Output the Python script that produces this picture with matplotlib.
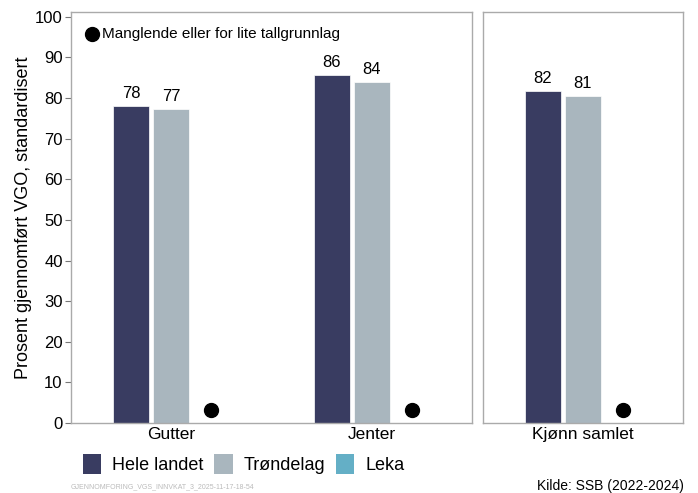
import matplotlib
matplotlib.use("Agg")
import matplotlib.pyplot as plt
from matplotlib.patches import Patch

plt.rcParams['font.family'] = ['Liberation Sans', 'DejaVu Sans']

categories_left = ["Gutter", "Jenter"]
categories_right = ["Kjønn samlet"]
series = ["Hele landet", "Trøndelag", "Leka"]
hele_left = [78.0, 85.8]
tron_left = [77.4, 84.0]
hele_right = [81.7]
tron_right = [80.6]
missing_y = 3.2
colors = {"Hele landet": "#393C61", "Trøndelag": "#A9B6BE", "Leka": "#64AFC6"}
yticks = [0, 10, 20, 30, 40, 50, 60, 70, 80, 90, 100]

W, H = 698, 493
fig = plt.figure(figsize=(W/100, H/100), dpi=100)
axL = fig.add_axes([71/W, 1-423/H, 401/W, 411/H])
axR = fig.add_axes([483/W, 1-423/H, 200/W, 411/H])

bw = 0.18
off = 0.2

def draw(ax, cats, hele, tron):
    xs = list(range(len(cats)))
    b1 = ax.bar([x - off for x in xs], hele, width=bw, color=colors["Hele landet"],
                edgecolor="white", linewidth=0.5)
    b2 = ax.bar(xs, tron, width=bw, color=colors["Trøndelag"],
                edgecolor="white", linewidth=0.5)
    for rects, vals in ((b1, hele), (b2, tron)):
        for r, v in zip(rects, vals):
            ax.text(r.get_x() + r.get_width()/2, v + 1.2, f"{round(v)}",
                    ha="center", va="bottom", fontsize=12)
    ax.plot([x + off for x in xs], [missing_y]*len(xs), 'o', color="black",
            markersize=10)
    ax.set_xticks(xs)
    ax.set_xticklabels(cats, fontsize=12.5)
    ax.set_xlim(-0.5, len(cats) - 0.5)
    ax.set_ylim(0, 101.2)
    for s in ax.spines.values():
        s.set_color("#AAAAAA")
        s.set_linewidth(1)
    ax.tick_params(axis='x', length=0, pad=3)

draw(axL, categories_left, hele_left, tron_left)
draw(axR, categories_right, hele_right, tron_right)

axL.set_yticks(yticks)
axL.set_yticklabels([str(t) for t in yticks], fontsize=12)
axL.tick_params(axis='y', length=4, color="#777777", pad=2)
axL.set_ylabel("Prosent gjennomført VGO, standardisert", fontsize=13, labelpad=2)
axR.set_yticks([])

axL.plot([0.052], [0.947], 'o', color="black", markersize=10, transform=axL.transAxes,
         clip_on=False)
axL.text(0.078, 0.947, "Manglende eller for lite tallgrunnlag", transform=axL.transAxes,
         fontsize=11, va="center", ha="left")

handles = [Patch(facecolor=colors[s], edgecolor="none") for s in series]
fig.legend(handles, series, loc="center left", bbox_to_anchor=(83/W, 1-464/H),
           ncol=3, frameon=False, fontsize=13, handlelength=1.0, handleheight=1.3,
           handletextpad=0.62, columnspacing=0.6, borderaxespad=0, borderpad=0)

fig.text(71/W, 1-487/H, "GJENNOMFORING_VGS_INNVKAT_3_2025-11-17-18-54", fontsize=5,
         color="#BBBBBB", va="center", ha="left")
fig.text(684/W, 1-486/H, "Kilde: SSB (2022-2024)", fontsize=10, va="center", ha="right")

fig.savefig("out.png", dpi=100)
